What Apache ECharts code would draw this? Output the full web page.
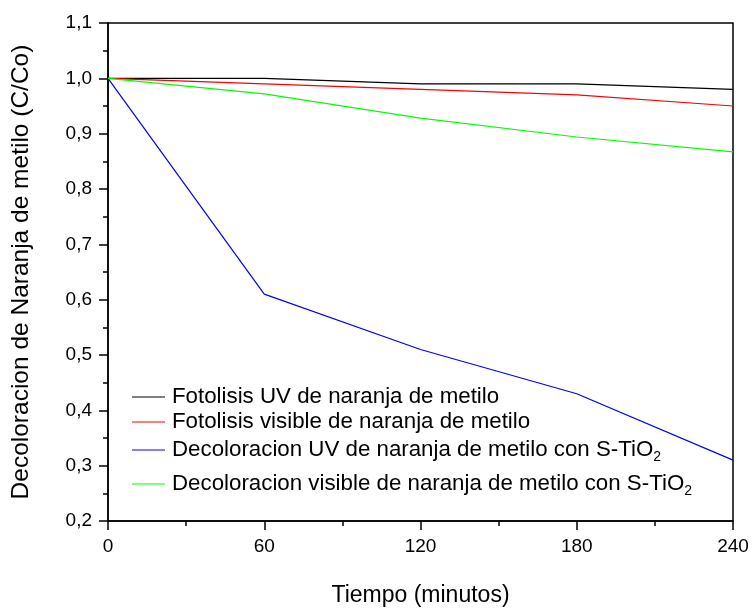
<!DOCTYPE html>
<html>
<head>
<meta charset="utf-8">
<script src="https://cdn.jsdelivr.net/npm/echarts@6/dist/echarts.min.js"></script>
<style>
  html, body { margin: 0; padding: 0; background: #fff; }
  #chart { width: 753px; height: 612px; }
</style>
</head>
<body>
<div id="chart"></div>
<script>
// tiempo (minutos)
const tiempos = [0, 60, 120, 180, 240];

// C/Co
const fotolisisUV = [1.0, 1.0, 0.99, 0.99, 0.98];
const fotolisisVis = [1.0, 0.99, 0.98, 0.97, 0.95];
const decolUV = [1.0, 0.61, 0.51, 0.43, 0.31];
const decolVis = [1.0, 0.972, 0.928, 0.894, 0.867];

const seriesNames = [
  'Fotolisis UV de naranja de metilo',
  'Fotolisis visible de naranja de metilo',
  'Decoloracion UV de naranja de metilo con S-TiO2',
  'Decoloracion visible de naranja de metilo con S-TiO2'
];
const seriesColors = ['#000000', '#ff0000', '#0000ff', '#00ff00'];
const seriesValues = [fotolisisUV, fotolisisVis, decolUV, decolVis];

const legendTops = [381, 406, 434, 468];

const chart = echarts.init(document.getElementById('chart'));

const fontFamily = '"Liberation Sans", Arial, sans-serif';

function legendLabel(name) {
  if (name.endsWith('TiO2')) {
    return name.slice(0, -1) + '{sub|2}';
  }
  return name;
}

const option = {
  animation: false,
  textStyle: { fontFamily: fontFamily },
  grid: {
    left: 108, right: 20, top: 23, bottom: 90,
    show: true, borderColor: '#000', borderWidth: 1.5
  },
  legend: seriesNames.map((name, i) => ({
    data: [{ name: name, icon: 'rect' }],
    left: 127,
    top: legendTops[i],
    itemWidth: 33,
    itemHeight: 1.2,
    itemGap: 0,
    selectedMode: false,
    formatter: legendLabel,
    textStyle: {
      fontSize: 22.3,
      color: '#000',
      fontFamily: fontFamily,
      padding: [0, 0, 0, 2],
      rich: {
        sub: { fontSize: 14, padding: [14, 0, 0, 0], fontFamily: fontFamily, color: '#000' }
      }
    }
  })),
  xAxis: {
    type: 'value',
    min: 0,
    max: 240,
    interval: 60,
    name: 'Tiempo (minutos)',
    nameLocation: 'middle',
    nameGap: 63,
    nameTextStyle: { fontSize: 23, color: '#000' },
    axisLine: { lineStyle: { color: '#000', width: 1.5 } },
    axisTick: { length: 9, lineStyle: { color: '#000', width: 1.5 } },
    minorTick: { show: true, splitNumber: 2, length: 5, lineStyle: { color: '#000', width: 1.5 } },
    axisLabel: { fontSize: 19, color: '#000', margin: 16 },
    splitLine: { show: false }
  },
  yAxis: {
    type: 'value',
    min: 0.2,
    max: 1.1,
    interval: 0.1,
    name: 'Decoloracion de Naranja de metilo (C/Co)',
    nameLocation: 'middle',
    nameGap: 74,
    nameTextStyle: { fontSize: 24.5, color: '#000' },
    axisLine: { show: true, lineStyle: { color: '#000', width: 1.5 } },
    axisTick: { show: true, length: 9, lineStyle: { color: '#000', width: 1.5 } },
    minorTick: { show: true, splitNumber: 2, length: 5, lineStyle: { color: '#000', width: 1.5 } },
    axisLabel: {
      fontSize: 19, color: '#000', margin: 16,
      formatter: v => v.toFixed(1).replace('.', ',')
    },
    splitLine: { show: false }
  },
  series: seriesNames.map((name, i) => ({
    name: name,
    type: 'line',
    symbol: 'none',
    color: seriesColors[i],
    lineStyle: { width: 1.2, color: seriesColors[i] },
    data: tiempos.map((t, j) => [t, seriesValues[i][j]])
  }))
};

chart.setOption(option);
</script>
</body>
</html>
